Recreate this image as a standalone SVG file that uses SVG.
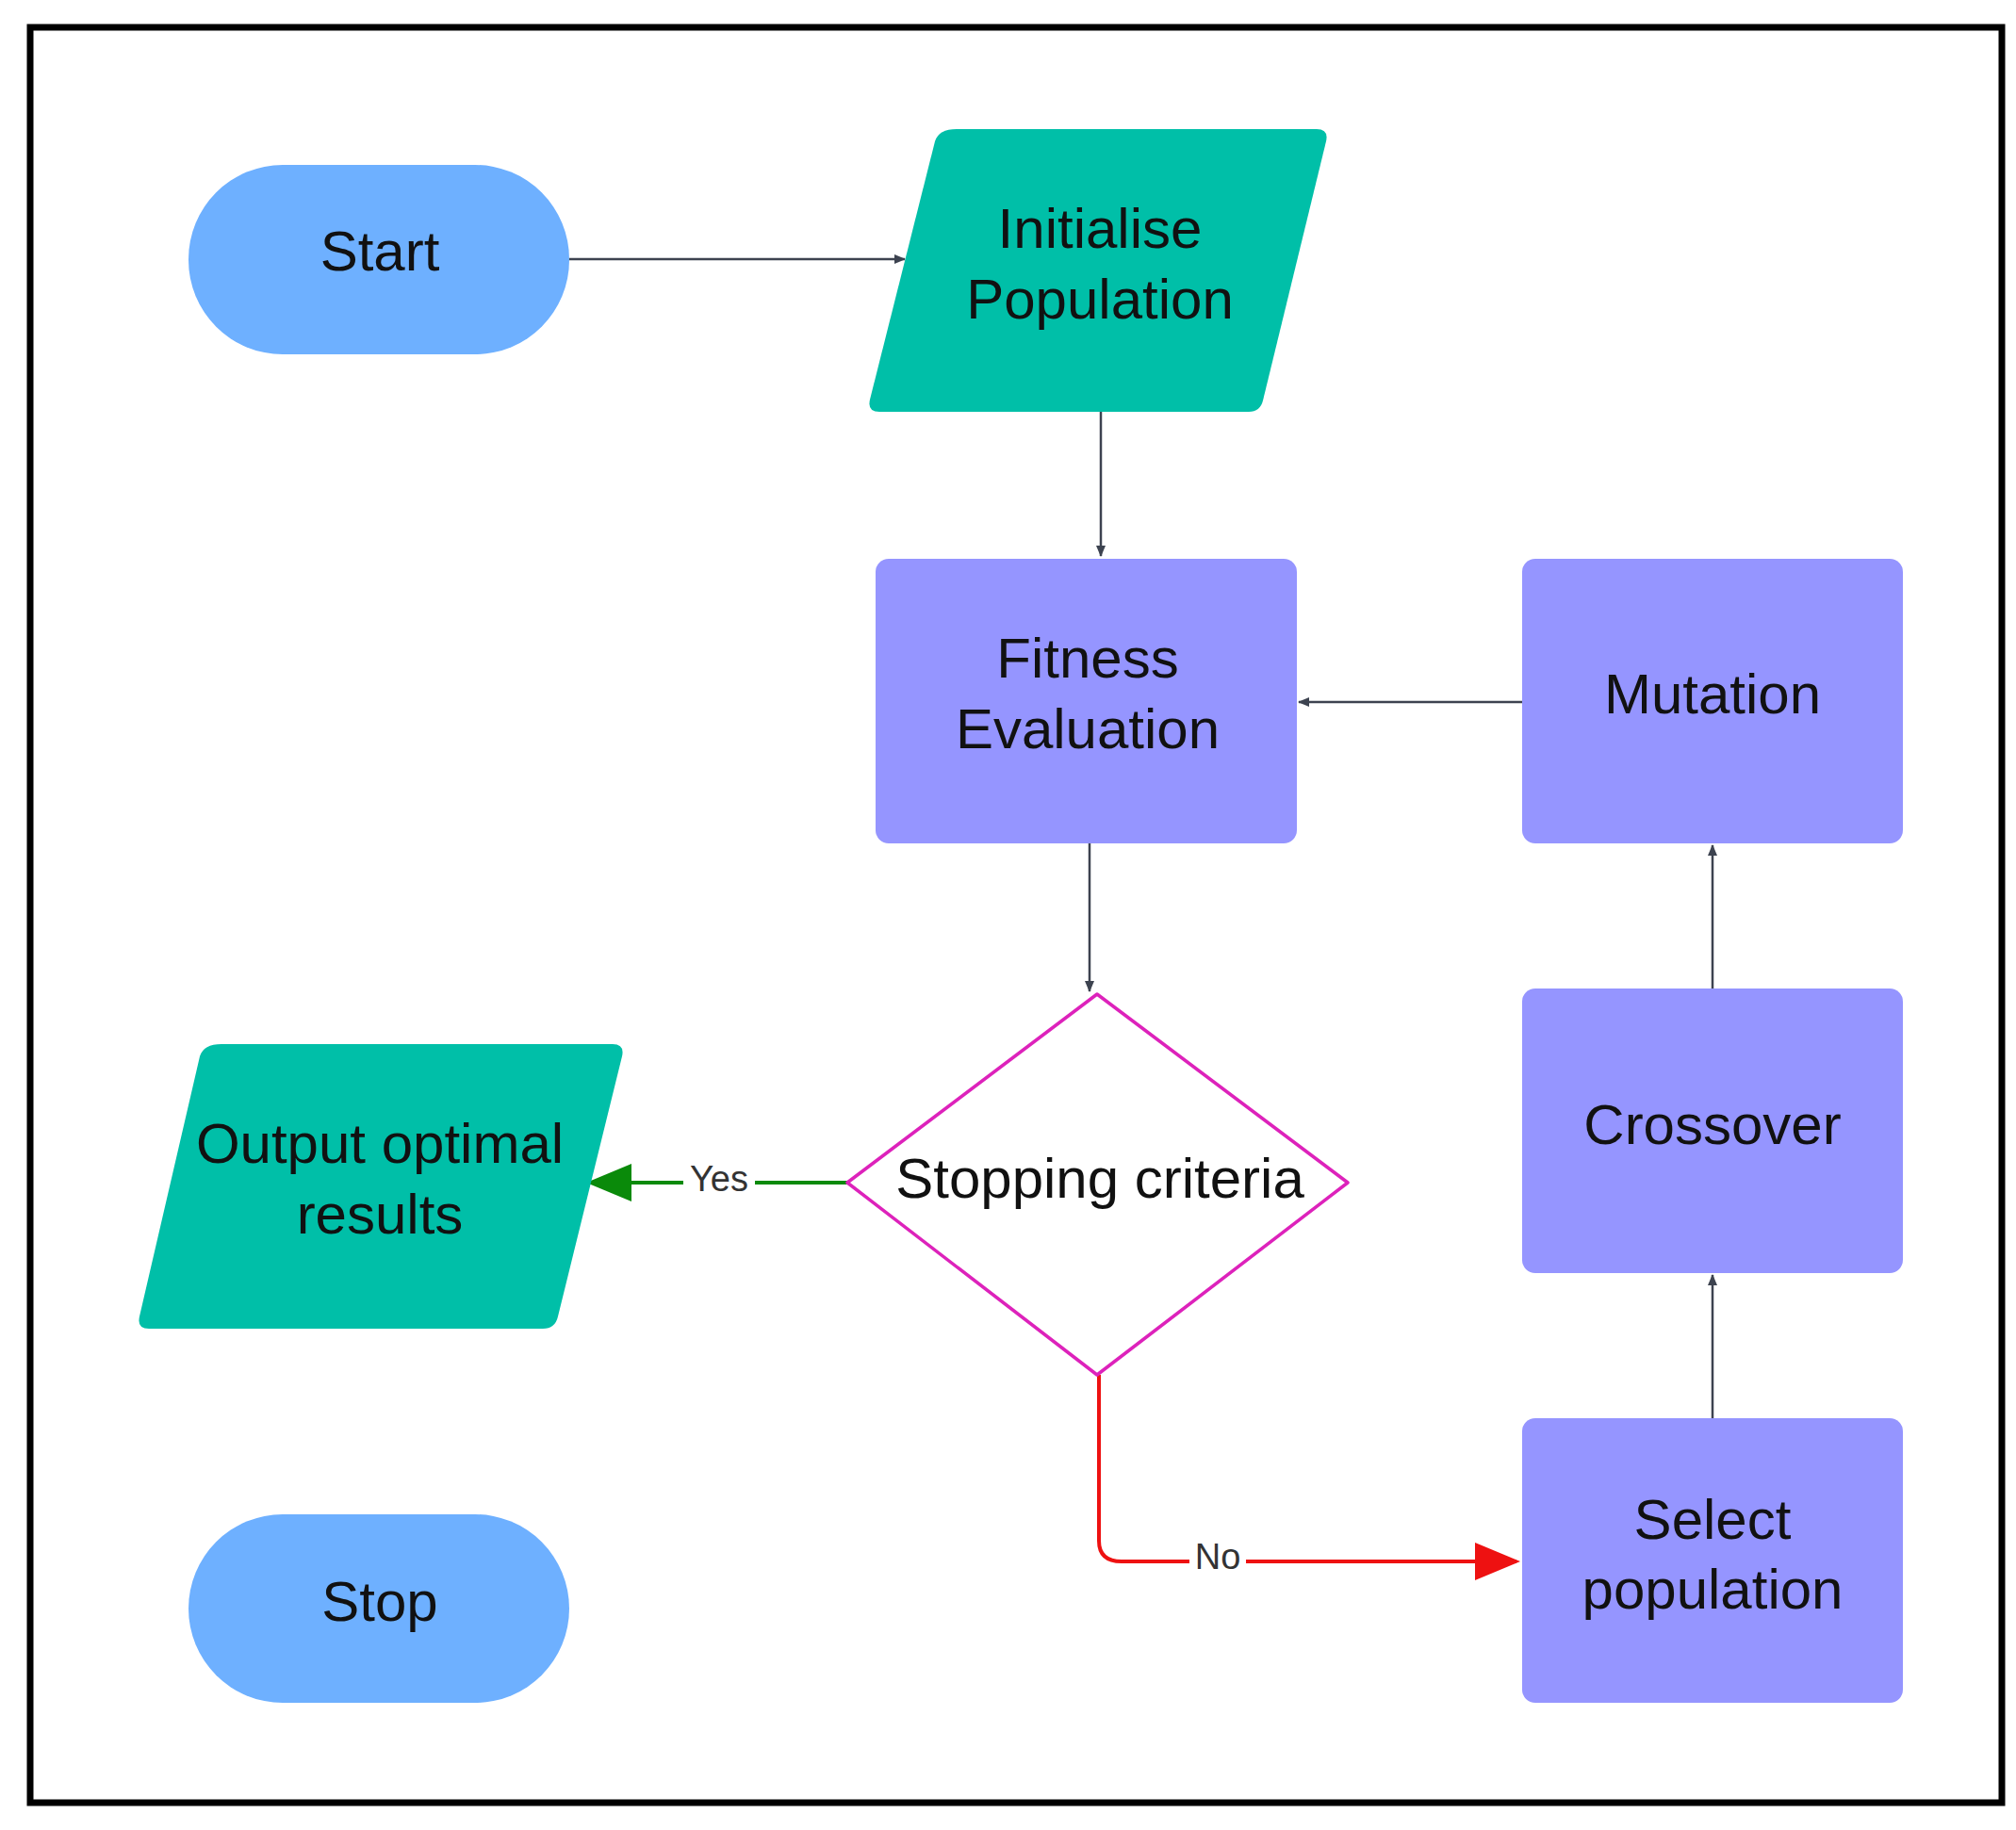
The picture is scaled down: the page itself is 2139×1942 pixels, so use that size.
<svg xmlns="http://www.w3.org/2000/svg" width="2139" height="1942" viewBox="0 0 2139 1942">
<style>
text{font-family:"Liberation Sans",Arial,sans-serif;font-size:60px;fill:#111;text-anchor:middle;dominant-baseline:central}
.lbl{font-size:38px;fill:#333}
.term{fill:#6eb0ff}
.io{fill:#00bfa8}
.proc{fill:#9595ff}
.c{fill:none;stroke:#3d4350;stroke-width:2.5}
</style>
<defs>
<marker id="a" markerWidth="12" markerHeight="10" refX="11" refY="5" orient="auto" markerUnits="userSpaceOnUse" viewBox="0 0 12 10"><path d="M0,0L12,5L0,10Z" fill="#3d4350"/></marker>
<marker id="ag" markerWidth="12" markerHeight="10" refX="11" refY="5" orient="auto" viewBox="0 0 12 10"><path d="M0,0L12,5L0,10Z" fill="#0a8a0a"/></marker>
<marker id="ar" markerWidth="12" markerHeight="10" refX="11" refY="5" orient="auto" viewBox="0 0 12 10"><path d="M0,0L12,5L0,10Z" fill="#ee1111"/></marker>
</defs>
<rect width="2139" height="1942" fill="#fff"/>
<rect x="32" y="29" width="2092" height="1884" fill="none" stroke="#000" stroke-width="7"/>
<g id="connectors">
<path class="c" d="M604,275H960" marker-end="url(#a)" style="marker-end:url(#a)"/>
<path class="c" d="M1168,437V590" style="marker-end:url(#a)"/>
<path class="c" d="M1615,745H1378" style="marker-end:url(#a)"/>
<path class="c" d="M1156,895V1052" style="marker-end:url(#a)"/>
<path class="c" d="M1817,1049V897" style="marker-end:url(#a)"/>
<path class="c" d="M1817,1505V1353" style="marker-end:url(#a)"/>
<path d="M899,1255H626" fill="none" stroke="#0a8a0a" stroke-width="4" marker-end="url(#ag)"/>
<rect x="725" y="1230" width="76" height="44" fill="#fff"/>
<text class="lbl" x="763" y="1251">Yes</text>
<path d="M1166,1459V1635Q1166,1657 1190,1657H1609" fill="none" stroke="#ee1111" stroke-width="4" marker-end="url(#ar)"/>
<rect x="1262" y="1635" width="60" height="44" fill="#fff"/>
<text class="lbl" x="1292" y="1652">No</text>
</g>
<g id="start"><rect class="term" x="200" y="175" width="404" height="201" rx="100"/><text x="403" y="266">Start</text></g>
<g id="init"><path class="io" d="M1015,137H1397Q1410,137 1407,150L1340,425Q1337,437 1325,437H933Q920,437 923,424L992,150Q996,137 1015,137Z"/><text x="1167" y="242">Initialise</text><text x="1167" y="317">Population</text></g>
<g id="fitness"><rect class="proc" x="929" y="593" width="447" height="302" rx="14"/><text x="1154" y="698">Fitness</text><text x="1154" y="773">Evaluation</text></g>
<g id="mutation"><rect class="proc" x="1615" y="593" width="404" height="302" rx="14"/><text x="1817" y="736">Mutation</text></g>
<g id="crossover"><rect class="proc" x="1615" y="1049" width="404" height="302" rx="14"/><text x="1817" y="1193">Crossover</text></g>
<g id="select"><rect class="proc" x="1615" y="1505" width="404" height="302" rx="14"/><text x="1817" y="1612">Select</text><text x="1817" y="1686">population</text></g>
<g id="decision"><path d="M1164,1055L1430,1255L1164,1459L899,1255Z" fill="#fff" stroke="#dd22bb" stroke-width="3.5" stroke-linejoin="round"/><text x="1167" y="1250">Stopping criteria</text></g>
<g id="output"><path class="io" d="M235,1108H650Q663,1108 660,1121L592,1397Q589,1410 576,1410H158Q145,1410 148,1397L212,1121Q216,1108 235,1108Z"/><text x="403" y="1213">Output optimal</text><text x="403" y="1288">results</text></g>
<g id="stop"><rect class="term" x="200" y="1607" width="404" height="200" rx="100"/><text x="403" y="1699">Stop</text></g>
</svg>
